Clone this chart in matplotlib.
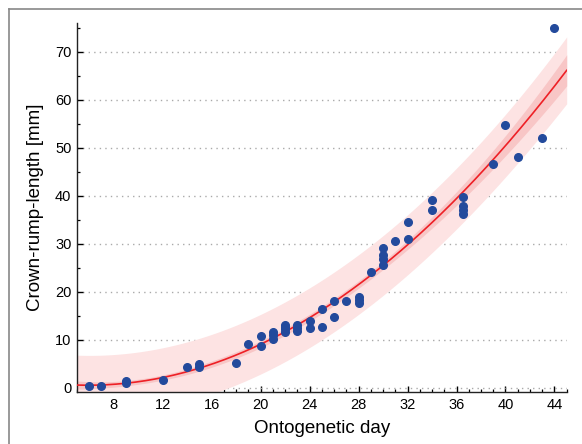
import numpy as np
import matplotlib
matplotlib.use("Agg")
import matplotlib.pyplot as plt
from matplotlib.lines import Line2D
from matplotlib.ticker import MultipleLocator

plt.rcParams['font.family'] = ['Liberation Sans', 'DejaVu Sans']

# Data
days = [6, 7, 9, 9, 12, 14, 15, 15, 18, 19, 20, 20,
        21, 21, 21, 22, 22, 22, 22, 23, 23, 23, 24, 24,
        25, 25, 26, 26, 27, 28, 28, 28, 29, 30, 30, 30, 30,
        31, 32, 32, 34, 34, 36.5, 36.5, 36.5, 36.5, 39, 40, 41, 43, 44]
crl = [0.5, 0.4, 1.0, 1.4, 1.7, 4.3, 4.3, 5.1, 5.3, 9.2, 8.75, 10.8,
       10.3, 11.0, 11.7, 11.7, 12.2, 12.7, 13.1, 11.8, 12.5, 13.2, 12.5, 13.9,
       12.6, 16.4, 14.7, 18.1, 18.1, 17.8, 18.4, 19.0, 24.1, 25.6, 26.8, 27.8, 29.1,
       30.6, 31.1, 34.6, 37.1, 39.2, 36.2, 37.1, 38.0, 39.7, 46.6, 54.8, 48.1, 52.1, 75.0]
x_ticks = [8, 12, 16, 20, 24, 28, 32, 36, 40, 44]
y_ticks = [0, 10, 20, 30, 40, 50, 60, 70]

x = np.array(days, dtype=float)
y = np.array(crl, dtype=float)

# weighted quadratic least-squares fit (spread growing with age)
X = np.column_stack([np.ones_like(x), x, x**2])
w = 1.0 / x**2
W = np.diag(w)
XtWX_inv = np.linalg.inv(X.T @ W @ X)
beta = XtWX_inv @ X.T @ W @ y
resid = y - X @ beta
dof = len(x) - 3
s0 = np.sqrt(np.sum(w * resid**2) / dof)
s = np.sqrt(np.sum(resid**2) / dof)
t = 2.0
xf = np.linspace(5, 45, 300)
Xf = np.column_stack([np.ones_like(xf), xf, xf**2])
yf = Xf @ beta
h = np.einsum('ij,jk,ik->i', Xf, XtWX_inv, Xf)
ci = t * s0 * np.sqrt(h)
pi = np.sqrt(ci**2 + (t * s)**2)

fig = plt.figure(figsize=(5.82, 4.44), dpi=100)
ax = fig.add_axes([0.1323, 0.1164, 0.8414, 0.8316])

ax.fill_between(xf, yf - pi, yf + pi, color='#fde3e3', lw=0, zorder=1)
ax.fill_between(xf, yf - ci, yf + ci, color='#f8c6c6', lw=0, zorder=2)
ax.plot(xf, yf, color='#ee2026', lw=1.2, zorder=3)
ax.plot(x, y, 'o', color='#234a9c', ms=5.5, mec='#234a9c', zorder=4)

ax.set_xlim(5, 45)
ax.set_ylim(-0.9, 76)
ax.set_xticks(x_ticks)
ax.set_yticks(y_ticks)
ax.xaxis.set_minor_locator(MultipleLocator(1))
ax.yaxis.set_minor_locator(MultipleLocator(5))
ax.tick_params(axis='both', which='major', direction='in', length=4.5, width=1,
               labelsize=10.5, pad=4)
ax.tick_params(axis='both', which='minor', direction='in', length=2.5, width=0.9)
for sp in ['top', 'right']:
    ax.spines[sp].set_visible(False)
for sp in ['left', 'bottom']:
    ax.spines[sp].set_linewidth(1.0)
    ax.spines[sp].set_color('#222222')
ax.yaxis.grid(True, linestyle=(0, (1, 3)), color='#aaaaaa', lw=1)
ax.set_axisbelow(True)

ax.set_xlabel('Ontogenetic day', fontsize=13.5, labelpad=6)
ax.set_ylabel('Crown-rump-length [mm]', fontsize=13.5, labelpad=8)

# partial frame around the figure
fig.add_artist(Line2D([9/582, 9/582], [0, 1 - 9/444], transform=fig.transFigure,
                      color='#888888', lw=1.2))
fig.add_artist(Line2D([9/582, 1], [1 - 9/444, 1 - 9/444], transform=fig.transFigure,
                      color='#888888', lw=1.2))

fig.savefig('out.png', dpi=100)
